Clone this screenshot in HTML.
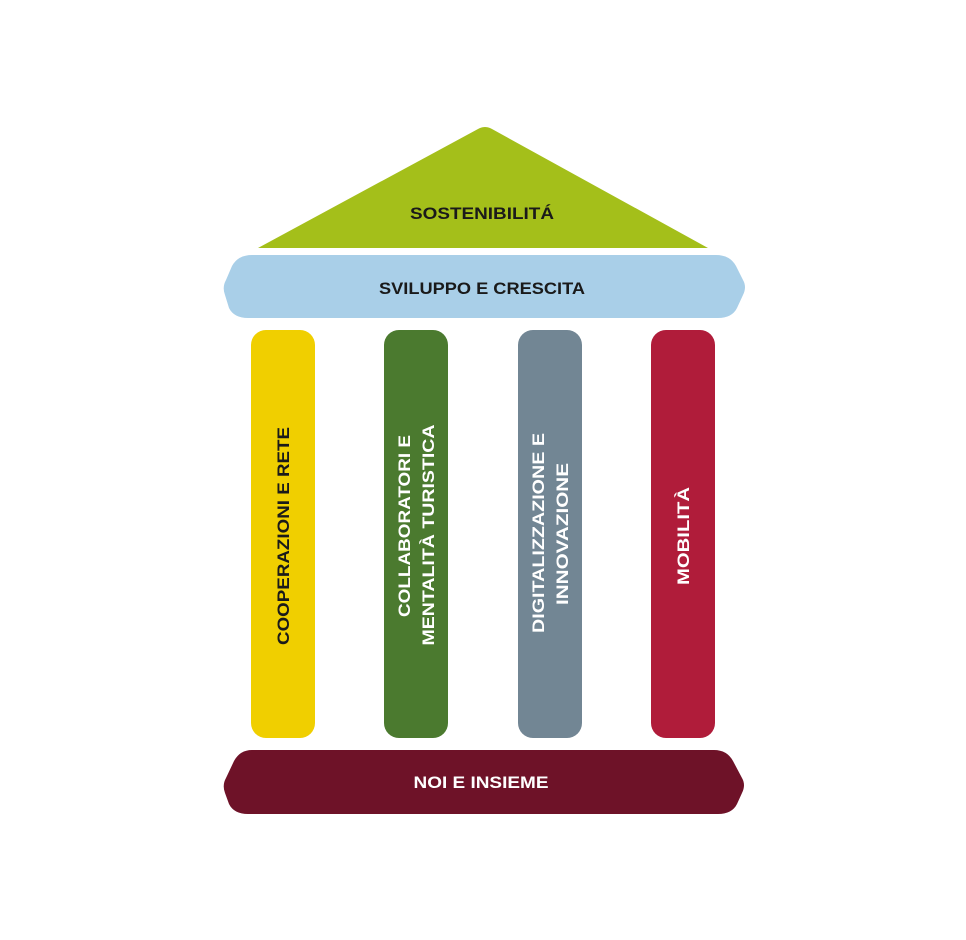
<!DOCTYPE html>
<html><head><meta charset="utf-8"><style>
html,body{margin:0;padding:0;background:#fff;}
svg{display:block;}
text{font-family:"Liberation Sans",sans-serif;font-weight:bold;font-size:17px;}
</style></head><body>
<svg width="966" height="940" viewBox="0 0 966 940" xmlns="http://www.w3.org/2000/svg">
<!-- roof -->
<path d="M258 248 L478 129 Q485 125 492 129 L708 248 Z" fill="#a4bf1a"/>
<text x="482" y="219" text-anchor="middle" fill="#1a1a1a" textLength="144" lengthAdjust="spacingAndGlyphs">SOSTENIBILITÁ</text>
<!-- blue band -->
<path d="M252 255 L716 255 Q730 255 736 266 L743 280 Q747 287 743 295 L737 308 Q732 318 718 318 L248 318 Q234 318 229 308 L225 295 Q222 287 226 280 L232 266 Q238 255 252 255 Z" fill="#a9cfe8"/>
<text x="482" y="294" text-anchor="middle" fill="#1a1a1a" textLength="206" lengthAdjust="spacingAndGlyphs">SVILUPPO E CRESCITA</text>
<!-- columns -->
<rect x="251" y="330" width="64" height="408" rx="15" fill="#f0cf00"/>
<rect x="384" y="330" width="64" height="408" rx="15" fill="#4b7a2f"/>
<rect x="518" y="330" width="64" height="408" rx="15" fill="#728694"/>
<rect x="651" y="330" width="64" height="408" rx="15" fill="#b01c3a"/>
<text transform="translate(289,536) rotate(-90)" text-anchor="middle" fill="#1a1a1a" textLength="218" lengthAdjust="spacingAndGlyphs">COOPERAZIONI E RETE</text>
<text transform="translate(410,526) rotate(-90)" text-anchor="middle" fill="#fff" textLength="182" lengthAdjust="spacingAndGlyphs">COLLABORATORI E</text>
<text transform="translate(434,535) rotate(-90)" text-anchor="middle" fill="#fff" textLength="221" lengthAdjust="spacingAndGlyphs">MENTALITÀ TURISTICA</text>
<text transform="translate(544,533) rotate(-90)" text-anchor="middle" fill="#fff" textLength="200" lengthAdjust="spacingAndGlyphs">DIGITALIZZAZIONE E</text>
<text transform="translate(568,534) rotate(-90)" text-anchor="middle" fill="#fff" textLength="142" lengthAdjust="spacingAndGlyphs">INNOVAZIONE</text>
<text transform="translate(689,536) rotate(-90)" text-anchor="middle" fill="#fff" textLength="98" lengthAdjust="spacingAndGlyphs">MOBILITÀ</text>
<!-- base -->
<path d="M252 750 L714 750 Q727 750 733 761 L742 778 Q746 785 742 793 L737 804 Q732 814 718 814 L248 814 Q234 814 229 804 L225 793 Q222 785 226 778 L234 761 Q240 750 252 750 Z" fill="#6e1228"/>
<text x="481" y="788" text-anchor="middle" fill="#fff" textLength="135" lengthAdjust="spacingAndGlyphs">NOI E INSIEME</text>
</svg>
</body></html>
